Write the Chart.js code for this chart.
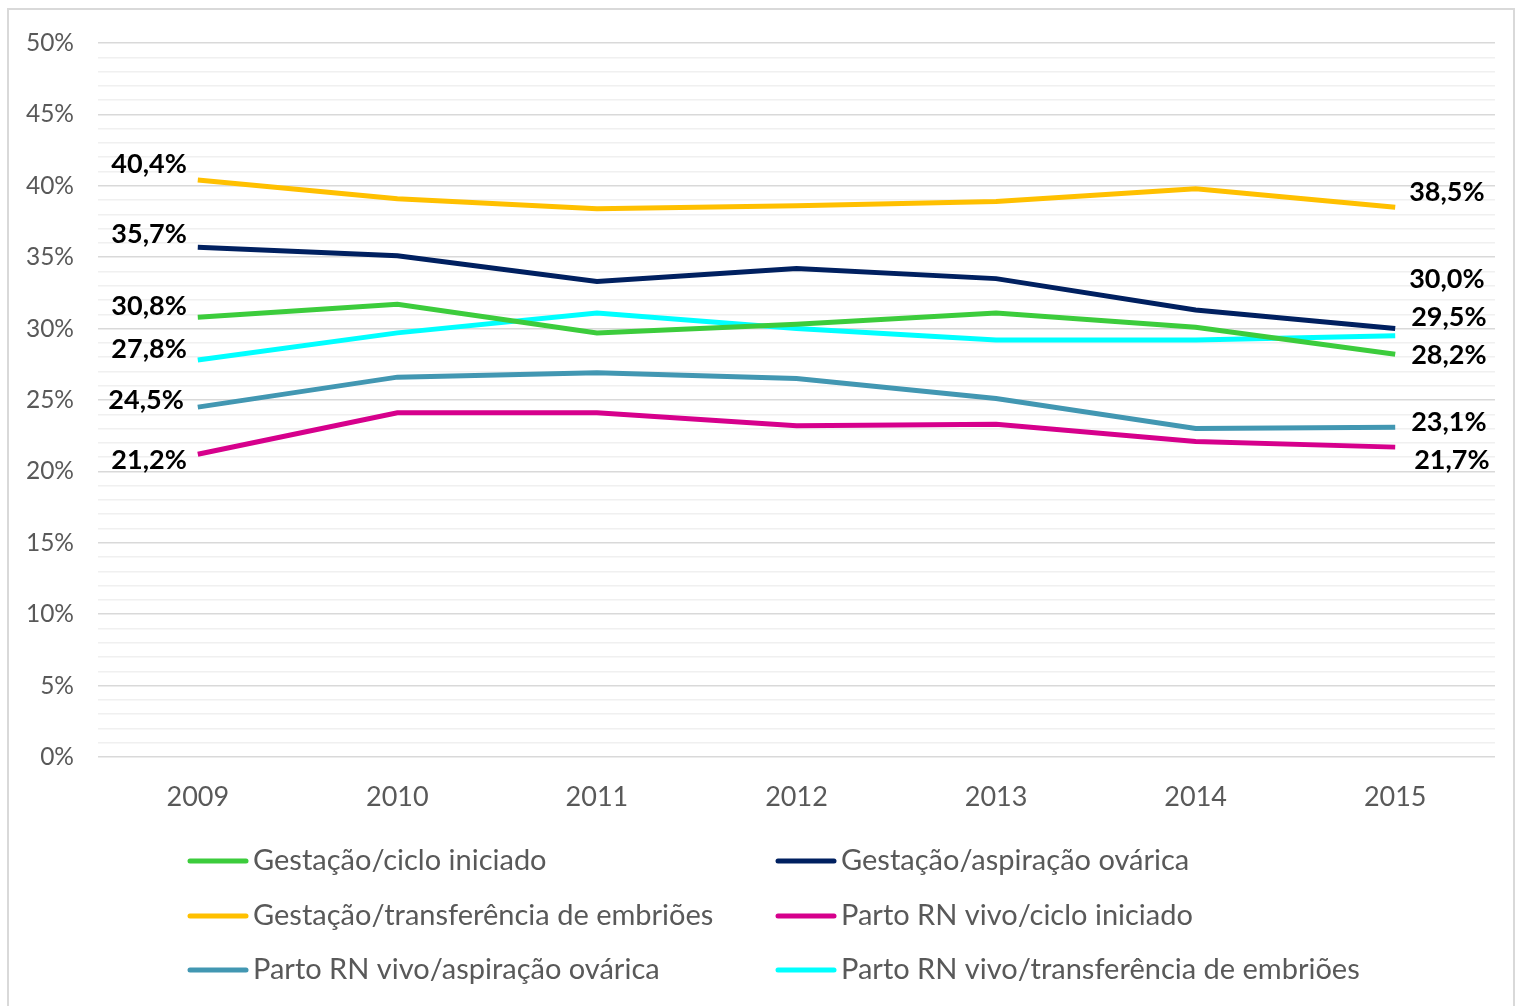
<!DOCTYPE html>
<html>
<head>
<meta charset="utf-8">
<script src="https://cdn.jsdelivr.net/npm/chart.js@4"></script>
<style>
  html, body { margin: 0; padding: 0; background: #fff; }
  #moldura { position: absolute; left: 7px; top: 8px; width: 1508px; height: 1010px; border: 2px solid #d9d9d9; box-sizing: border-box; }
  #grafico { position: absolute; left: 0; top: 0; }
</style>
</head>
<body>
<div id="moldura"></div>
<canvas id="grafico" width="1518" height="1006"></canvas>
<script>
// anos
var anos = ["2009", "2010", "2011", "2012", "2013", "2014", "2015"]

// taxas (%) por serie
var gestacaoCiclo = [30.8, 31.7, 29.7, 30.3, 31.1, 30.1, 28.2]
var gestacaoAspiracao = [35.7, 35.1, 33.3, 34.2, 33.5, 31.3, 30.0]
var gestacaoTransferencia = [40.4, 39.1, 38.4, 38.6, 38.9, 39.8, 38.5]
var partoCiclo = [21.2, 24.1, 24.1, 23.2, 23.3, 22.1, 21.7]
var partoAspiracao = [24.5, 26.6, 26.9, 26.5, 25.1, 23.0, 23.1]
var partoTransferencia = [27.8, 29.7, 31.1, 30.0, 29.2, 29.2, 29.5]

var nomesSeries = [
  "Gestação/ciclo iniciado",
  "Gestação/aspiração ovárica",
  "Gestação/transferência de embriões",
  "Parto RN vivo/ciclo iniciado",
  "Parto RN vivo/aspiração ovárica",
  "Parto RN vivo/transferência de embriões"
]
var cores = ["#3ccc3c", "#002060", "#ffc000", "#d6008c", "#4297b2", "#00ffff"]

// deslocamento dos rotulos (primeiro e ultimo ponto)
var desvioInicio = [[-11, -11], [-11, -13], [-11, -16], [-11, 6], [-14, -7], [-11, -11]]
var desvioFim = [[16, 1], [14, -49], [14, -15], [19, 13], [16, -5], [16, -18]]

var fonte = "Lato, 'Open Sans', sans-serif"

function formata(v) {
  return v.toFixed(1).replace('.', ',') + '%'
}

var rotulosPlugin = {
  id: 'rotulos',
  afterDatasetsDraw: function(chart) {
    var ctx = chart.ctx
    ctx.save()
    ctx.font = "bold 27px " + fonte
    ctx.fillStyle = "#000"
    ctx.textBaseline = "middle"
    chart.data.datasets.forEach(function(ds, i) {
      var pts = chart.getDatasetMeta(i).data
      var p0 = pts[0]
      var pN = pts[pts.length - 1]
      ctx.textAlign = "right"
      ctx.fillText(formata(ds.data[0]), p0.x + desvioInicio[i][0], p0.y + desvioInicio[i][1])
      ctx.textAlign = "left"
      ctx.fillText(formata(ds.data[ds.data.length - 1]), pN.x + desvioFim[i][0], pN.y + desvioFim[i][1])
    })
    ctx.restore()
  }
}

var legendaPlugin = {
  id: 'legenda',
  afterDraw: function(chart) {
    var ctx = chart.ctx
    var area = chart.chartArea
    var colunas = [area.left + 90, area.left + 678]
    var linhas = [area.bottom + 104, area.bottom + 159, area.bottom + 213]
    ctx.save()
    ctx.font = "29px " + fonte
    ctx.textAlign = "left"
    ctx.textBaseline = "middle"
    chart.data.datasets.forEach(function(ds, i) {
      var x = colunas[i % 2]
      var y = linhas[Math.floor(i / 2)]
      ctx.strokeStyle = ds.borderColor
      ctx.lineWidth = 5
      ctx.lineCap = "round"
      ctx.beginPath()
      ctx.moveTo(x + 2, y)
      ctx.lineTo(x + 58, y)
      ctx.stroke()
      ctx.fillStyle = "#595959"
      ctx.fillText(ds.label, x + 65, y)
    })
    ctx.restore()
  }
}

var series = [gestacaoCiclo, gestacaoAspiracao, gestacaoTransferencia, partoCiclo, partoAspiracao, partoTransferencia]
var datasets = []
for (i = 0; i < series.length; i++) {
  datasets.push({
    label: nomesSeries[i],
    data: series[i],
    borderColor: cores[i],
    backgroundColor: cores[i],
    borderWidth: 5,
    pointRadius: 0,
    tension: 0,
    fill: false
  })
}

var chart = new Chart("grafico", {
  type: "line",
  data: {
    labels: anos,
    datasets: datasets
  },
  options: {
    responsive: false,
    animation: false,
    layout: {
      padding: { left: 8, top: 43, right: 23, bottom: 189 }
    },
    scales: {
      x: {
        offset: true,
        grid: { display: false, drawTicks: false },
        border: { display: false },
        ticks: {
          color: "#595959",
          font: { family: fonte, size: 27 },
          padding: 24
        },
        afterFit: function(scale) { scale.height = 60 }
      },
      y: {
        min: 0,
        max: 50,
        grid: {
          drawTicks: false,
          color: function(c) {
            return c.tick && c.tick.value % 5 === 0 ? "#d9d9d9" : "#f0f0f0"
          },
          lineWidth: 1.5
        },
        border: { display: false },
        ticks: {
          stepSize: 1,
          autoSkip: false,
          color: "#595959",
          font: { family: fonte, size: 24.5 },
          padding: 24,
          callback: function(v) { return v % 5 === 0 ? v + "%" : "" }
        },
        afterFit: function(scale) { scale.width = 90 }
      }
    },
    plugins: {
      legend: { display: false },
      tooltip: { enabled: false }
    }
  },
  plugins: [rotulosPlugin, legendaPlugin]
});
</script>
</body>
</html>
